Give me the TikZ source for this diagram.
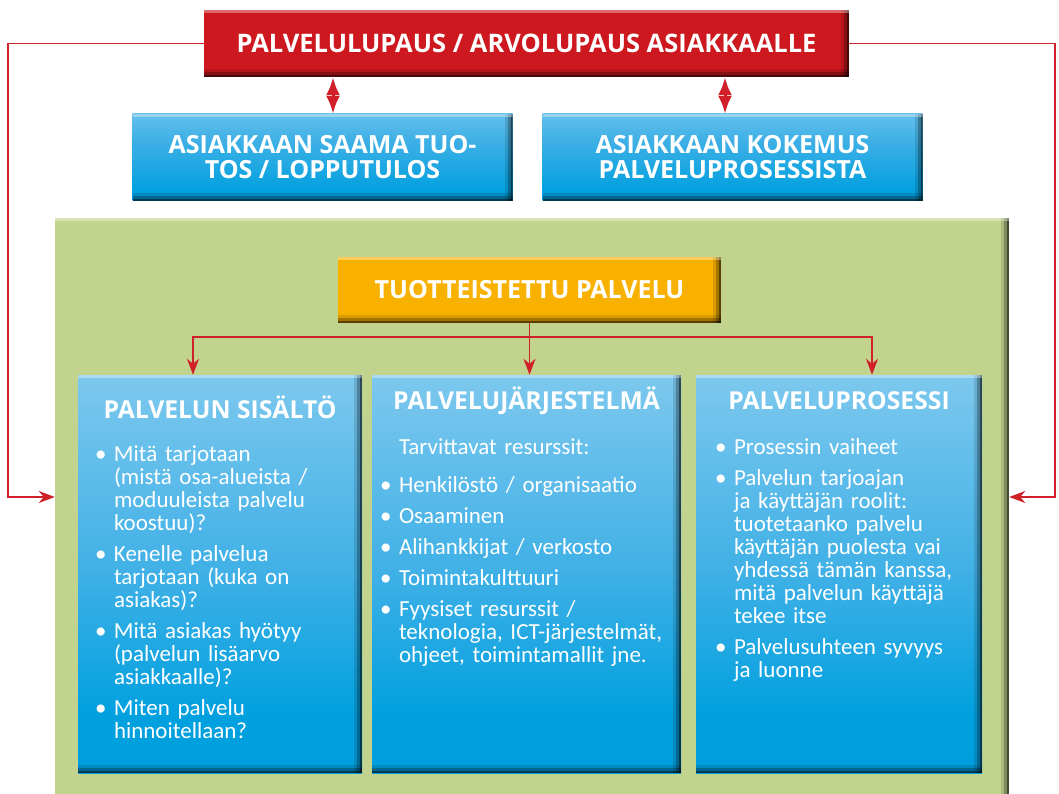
\documentclass[tikz,border=0pt]{standalone}
\usepackage{fontspec}
\setmainfont{Carlito}
\newfontfamily\headfont{Open Sans}
\usetikzlibrary{arrows.meta, positioning, calc}

\definecolor{promisered}{HTML}{CC181E}
\definecolor{amber}{HTML}{F9B100}
\definecolor{leaf}{HTML}{C2D38E}
\definecolor{linered}{HTML}{D0202A}
\definecolor{skytop}{HTML}{9ED8F6}
\definecolor{skyhigh}{HTML}{7DC8EE}
\definecolor{skymid}{HTML}{3FB0E6}
\definecolor{skydeep}{HTML}{00A0DF}
\definecolor{skybot}{HTML}{0096D6}

\pgfdeclareverticalshading{skyshort}{100bp}{color(0bp)=(skybot); color(30bp)=(skydeep); color(60bp)=(skymid); color(100bp)=(skytop)}
\pgfdeclareverticalshading{skytall}{100bp}{color(0bp)=(skybot); color(32bp)=(skydeep); color(50bp)=(skymid); color(75bp)=(skyhigh); color(100bp)=(skytop)}

\tikzset{
bevel/.style={path picture={
  \foreach \w/\o in {8/0.12, 5/0.25, 2/0.45}{
    \fill[black, opacity=\o] (path picture bounding box.south west) rectangle ([yshift=\w pt]path picture bounding box.south east);
    \fill[black, opacity=\o] ([xshift=-\w pt]path picture bounding box.south east) rectangle (path picture bounding box.north east);
  }
  \fill[white, opacity=0.35] (path picture bounding box.north west) rectangle ([yshift=-3pt]path picture bounding box.north east);
}},
bar/.style={bevel, inner sep=0pt, text=white, align=center, font=\headfont\bfseries\fontsize{25}{25}\selectfont},
promisebar/.style={bar, fill=promisered, minimum width=645pt, minimum height=67pt, font=\headfont\bfseries\fontsize{25.5}{26}\selectfont},
outcome/.style={bar, shading=skyshort, minimum width=380pt, minimum height=87pt},
productbar/.style={bar, fill=amber, minimum width=383pt, minimum height=66pt},
column/.style={bevel, shading=skytall, inner sep=0pt, minimum height=398pt},
colhead/.style={text=white, inner sep=0pt, font=\headfont\bfseries\fontsize{24.7}{26}\selectfont},
colbody/.style={text=white, inner sep=0pt, anchor=north west, align=left, font=\fontsize{23}{23}\selectfont},
conn/.style={draw=linered, line width=1.8pt, -{Stealth[length=16pt, width=12pt, inset=5pt]}},
dbl/.style={draw=linered, line width=3pt, {Latex[length=18pt, width=14pt]}-{Latex[length=18pt, width=14pt]}},
}
\newcommand{\bitem}[1]{\par\hangindent=19pt\hangafter=1\noindent\makebox[19pt][l]{\rule{0pt}{16pt}\textbullet}#1\par\vspace{8pt}}
\newcommand{\bline}[1]{\par\noindent\hspace*{19pt}\rule{0pt}{16pt}#1\par\vspace{15pt}}

\begin{document}
\begin{tikzpicture}[x=1pt, y=-1pt]
  \useasboundingbox (0,0) rectangle (1059,794);
  \node[bevel, fill=leaf, minimum width=954pt, minimum height=600pt, inner sep=0pt] (frame) at (532,518) {};

  \node[promisebar] (promise) at (526.5,43.5) {PALVELULUPAUS / ARVOLUPAUS ASIAKKAALLE};
  \node[outcome] (result) at (322.5,157.5) {ASIAKKAAN SAAMA TUO-\\TOS / LOPPUTULOS};
  \node[outcome] (experience) at (732.5,157.5) {ASIAKKAAN KOKEMUS\\PALVELUPROSESSISTA};
  \node[productbar] (product) at (529.5,290) {TUOTTEISTETTU PALVELU};

  \node[column, minimum width=284pt] (sisalto) at (220,574) {};
  \node[column, minimum width=309pt] (jarjestelma) at (526.5,574) {};
  \node[column, minimum width=286pt] (prosessi) at (839,574) {};

  \node[colhead] (sisaltohead) at ([yshift=-32pt]sisalto.north) {PALVELUN SISÄLTÖ};
  \node[colhead] (jarjestelmahead) at ([yshift=-26pt]jarjestelma.north) {PALVELUJÄRJESTELMÄ};
  \node[colhead] (prosessihead) at ([yshift=-26pt]prosessi.north) {PALVELUPROSESSI};

  \node[colbody, text width=262pt] (sisaltobody) at ([xshift=17pt, yshift=-63pt]sisalto.north west) {%
    \bitem{Mitä tarjotaan\newline(mistä osa-alueista /\newline moduuleista palvelu\newline koostuu)?}
    \bitem{Kenelle palvelua\newline tarjotaan (kuka on\newline asiakas)?}
    \bitem{Mitä asiakas hyötyy\newline(palvelun lisäarvo\newline asiakkaalle)?}
    \bitem{Miten palvelu\newline hinnoitellaan?}};
  \node[colbody, text width=298pt] (jarjestelmabody) at ([xshift=8pt, yshift=-56pt]jarjestelma.north west) {%
    \bline{Tarvittavat resurssit:}
    \bitem{Henkilöstö / organisaatio}
    \bitem{Osaaminen}
    \bitem{Alihankkijat / verkosto}
    \bitem{Toimintakulttuuri}
    \bitem{Fyysiset resurssit /\newline teknologia, ICT-järjestelmät,\newline ohjeet, toimintamallit jne.}};
  \node[colbody, text width=262pt] (prosessibody) at ([xshift=19pt, yshift=-56pt]prosessi.north west) {%
    \bitem{Prosessin vaiheet}
    \bitem{Palvelun tarjoajan\newline ja käyttäjän roolit:\newline tuotetaanko palvelu\newline käyttäjän puolesta vai\newline yhdessä tämän kanssa,\newline mitä palvelun käyttäjä\newline tekee itse}
    \bitem{Palvelusuhteen syvyys\newline ja luonne}};

  % feedback from the promise to the whole service
  \coordinate (lcorner) at (8,497);
  \coordinate (rcorner) at (1055,497);
  \draw[conn] (promise.west) -| (lcorner) -- (lcorner -| frame.west);
  \draw[conn] (promise.east) -| (rcorner) -- (rcorner -| frame.east);

  \draw[dbl] ([xshift=10.5pt]result.north) -- ([xshift=10.5pt]result.north |- promise.south);
  \draw[dbl] ([xshift=-7.5pt]experience.north) -- ([xshift=-7.5pt]experience.north |- promise.south);

  \draw[conn] (product.south) -- (product.south |- jarjestelma.north);
  \draw[conn] (product.south) ++(0,14) -| ([xshift=-27pt]sisalto.north);
  \draw[conn] (product.south) ++(0,14) -| ([xshift=33pt]prosessi.north);
\end{tikzpicture}
\end{document}
